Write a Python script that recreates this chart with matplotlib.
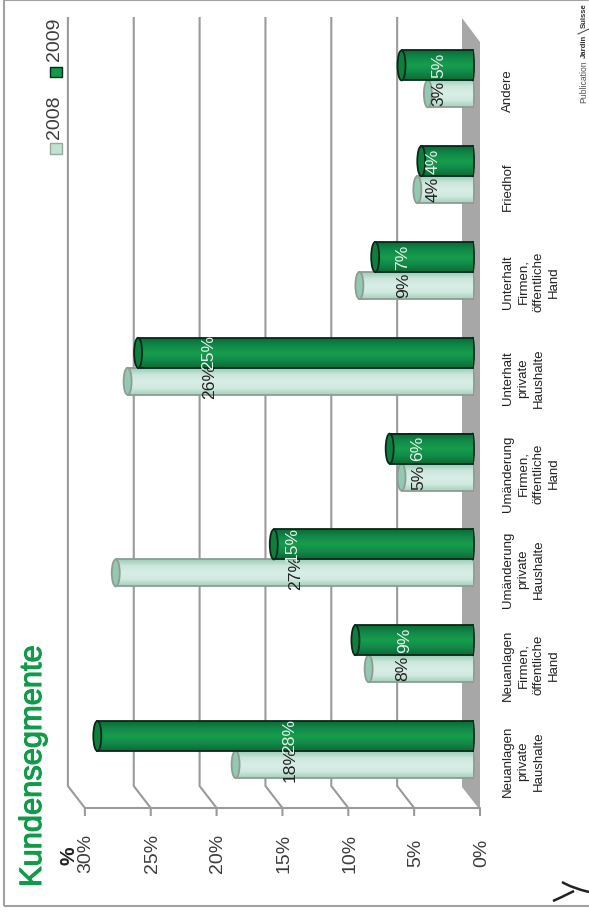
# plot.py

import numpy as np
import matplotlib.pyplot as plt
import matplotlib.patheffects as pe
from matplotlib.colors import LinearSegmentedColormap
from matplotlib.patches import Ellipse, Polygon, Rectangle, PathPatch
from matplotlib.path import Path

plt.rcParams["font.family"] = ["Liberation Sans", "DejaVu Sans"]

# data
categories = [
    "Neuanlagen\nprivate\nHaushalte",
    "Neuanlagen\nFirmen,\nöffentliche\nHand",
    "Umänderung\nprivate\nHaushalte",
    "Umänderung\nFirmen,\nöffentliche\nHand",
    "Unterhalt\nprivate\nHaushalte",
    "Unterhalt\nFirmen,\nöffentliche\nHand",
    "Friedhof",
    "Andere",
]
values_2008 = [17.7, 7.6, 26.8, 5.1, 25.9, 8.3, 3.9, 3.1]
values_2009 = [28.2, 8.6, 14.8, 6.0, 25.1, 7.1, 3.6, 5.1]
labels_2008 = ["18%", "8%", "27%", "5%", "26%", "9%", "4%", "3%"]
labels_2009 = ["28%", "9%", "15%", "6%", "25%", "7%", "4%", "5%"]
ticks = [0, 5, 10, 15, 20, 25, 30]

# picture position of the value labels
label_x_2008 = [290, 403, 296, 419, 210, 404, 433, 439]
label_x_2009 = [290, 405, 292, 418, 209, 403, 433, 439]

# scales of the picture
X0, X_PER_PCT = 480.0, 13.17
Y0, Y_PER_CAT = 751.0, 95.8
W, H = 589, 913


def vx(px):
    return (X0 - px) / X_PER_PCT


def vy(py):
    return (Y0 - py) / Y_PER_CAT


DEPTH = vx(463)
BAR_ZERO = vx(468.7)
BAR_BASE = vx(472.5)
CAP_W = 8 / X_PER_PCT
H_DARK = 30 / Y_PER_CAT
H_LIGHT = 27 / Y_PER_CAT

GRID = "#9a9a9a"
GREEN = "#119a4a"
FONT_THIN = "#3c3c3c"
NARROW = ["Liberation Sans Narrow", "Liberation Sans"]

cmap_dark = LinearSegmentedColormap.from_list(
    "dark", ["#0a6a33", "#12894a", "#169d4c", "#12894a", "#0a6a33"]
)
cmap_light = LinearSegmentedColormap.from_list(
    "light", ["#a3d2bc", "#d0eae0", "#d8eee6", "#cbe7db", "#9ccdb6"]
)
gradient = np.linspace(0, 1, 64).reshape(-1, 1)

fig = plt.figure(figsize=(W / 100, H / 100), dpi=100)
ax = fig.add_axes([0, 0, 1, 1])
ax.set_axis_off()

# outer frame
ax.add_patch(
    Rectangle(
        (vx(4), vy(906)), vx(620) - vx(4), vy(0) - vy(906),
        fill=False, edgecolor="#a2a2a2", linewidth=1.5, zorder=1,
    )
)

# back wall grid with the short diagonals down to the ticks
wall_top, wall_bottom, front = vy(18), vy(786), vy(808)
for t in ticks[1:]:
    ax.plot(
        [t + DEPTH, t + DEPTH, t, t],
        [wall_top, wall_bottom, front, vy(815)],
        color=GRID, linewidth=1.5, solid_joinstyle="miter", zorder=2,
    )

# floor
ax.add_patch(
    Polygon(
        [(vx(462), vy(18)), (vx(480), vy(42)), (vx(480), vy(810)), (vx(462), vy(787))],
        closed=True, facecolor="#a7a7a7", edgecolor="none", zorder=3,
    )
)
ax.plot([30, 0, 0], [front, front, vy(815)], color=GRID, linewidth=1.5, zorder=3)


def draw_bars(values, y_pos, height, cmap, edge, cap, lw, z):
    for y, v in zip(y_pos, values):
        top = v + BAR_ZERO
        ax.add_patch(
            Ellipse(
                (BAR_BASE, y + height / 2), 3 / X_PER_PCT, height,
                facecolor=cmap(0.3), edgecolor=edge, linewidth=lw, zorder=z,
            )
        )
        ax.imshow(
            gradient, cmap=cmap, origin="lower", aspect="auto",
            extent=(BAR_BASE, top, y, y + height), zorder=z + 0.1,
        )
        ax.barh(
            y + height / 2, top - BAR_BASE, height=height, left=BAR_BASE,
            facecolor="none", edgecolor="none", zorder=z + 0.2,
        )
        ax.plot([BAR_BASE, top], [y, y], color=edge, linewidth=lw, zorder=z + 0.2)
        ax.plot(
            [BAR_BASE, top], [y + height, y + height],
            color=edge, linewidth=lw, zorder=z + 0.2,
        )
        ax.add_patch(
            Ellipse(
                (top, y + height / 2), CAP_W, height,
                facecolor=cap, edgecolor=edge, linewidth=lw, zorder=z + 0.3,
            )
        )


pos = np.arange(len(categories))
draw_bars(values_2008, pos - H_LIGHT, H_LIGHT, cmap_light, "#8f9c95", "#93c9b0", 1.3, 4)
draw_bars(values_2009, pos, H_DARK, cmap_dark, "#06281a", "#0f7e3c", 1.3, 5)

# value labels
for i in pos:
    ax.text(
        vx(label_x_2008[i]), i - H_LIGHT / 2, labels_2008[i],
        rotation=90, ha="center", va="center", fontsize=12.6,
        family=NARROW, color="#222222", zorder=7,
    )
    ax.text(
        vx(label_x_2009[i]), i + H_DARK / 2, labels_2009[i],
        rotation=90, ha="center", va="center", fontsize=12.6,
        family=NARROW, color="#e6f3ea", zorder=7,
    )

# axis labels
for t in ticks:
    ax.text(
        t - 0.1, vy(853), f"{t}%", rotation=90, ha="center", va="center",
        fontsize=14, color=FONT_THIN, zorder=7,
    )
ax.text(
    vx(69), vy(856), "%", rotation=90, ha="center", va="center",
    fontsize=15, fontweight="bold", color="#222222",
)

for i, name in enumerate(categories):
    ax.text(
        vx(502), i + vy(761), name, rotation=90, ha="left", va="center",
        multialignment="center", fontsize=9.5, linespacing=1.36, color="#222222",
    )

# title
title = ax.text(
    vx(33), vy(887), "Kundensegmente", rotation=90, ha="center", va="bottom",
    fontsize=22.2, color=GREEN,
)
title.set_path_effects([pe.withStroke(linewidth=0.8, foreground=GREEN)])

# legend
ax.add_patch(
    Rectangle(
        (vx(62), vy(154)), vx(50) - vx(62), vy(143) - vy(154),
        facecolor="#bfe3d3", edgecolor="#9aa8a0", linewidth=1,
    )
)
ax.text(
    vx(55), vy(117), "2008", rotation=90, ha="center", va="center",
    fontsize=14, color=FONT_THIN,
)
ax.add_patch(
    Rectangle(
        (vx(62), vy(77)), vx(50) - vx(62), vy(67) - vy(77),
        facecolor="#109a49", edgecolor="#06281a", linewidth=1,
    )
)
ax.text(
    vx(55), vy(39), "2009", rotation=90, ha="center", va="center",
    fontsize=14, color=FONT_THIN,
)

# publisher line
ax.text(
    vx(584), vy(103), "Publication", rotation=90, ha="center", va="bottom",
    fontsize=6.2, color="#555555",
)
ax.text(
    vx(584), vy(58), "Jardin", rotation=90, ha="center", va="bottom",
    fontsize=5.6, fontweight="bold", color="#333333",
)
ax.text(
    vx(584), vy(28), "Suisse", rotation=90, ha="center", va="bottom",
    fontsize=5.6, fontweight="bold", color="#333333",
)
ax.plot([vx(578), vx(589)], [vy(34), vy(29)], color="#555555", linewidth=0.8)

# logo in the corner
for a, b, c in [
    ((562, 882), (572, 888), (589, 892)),
    ((553, 901), (560, 898), (574, 891)),
]:
    verts = [(vx(p[0]), vy(p[1])) for p in (a, b, c)]
    ax.add_patch(
        PathPatch(
            Path(verts, [Path.MOVETO, Path.CURVE3, Path.CURVE3]),
            fill=False, edgecolor="#222222", linewidth=1.8,
        )
    )

ax.set_xlim(vx(0), vx(W))
ax.set_ylim(vy(H), vy(0))

fig.savefig("out.png", dpi=100, facecolor="white")
